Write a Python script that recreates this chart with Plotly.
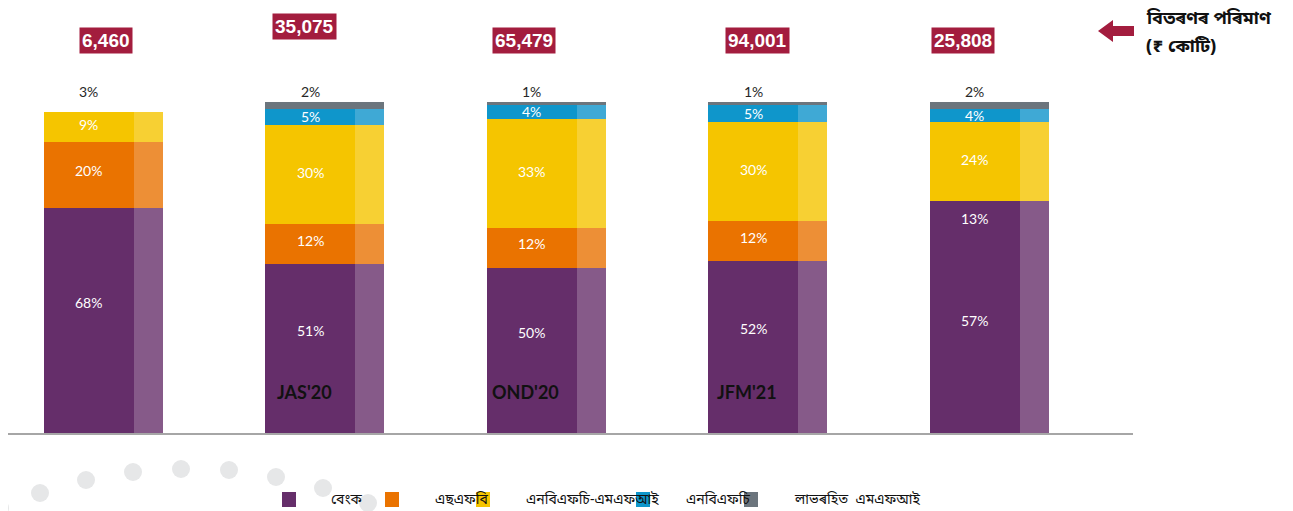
import plotly.graph_objects as go

# ---------------- data ----------------
bar_index = [0, 1, 2, 3, 4]
period_labels = ["", "JAS'20", "OND'20", "JFM'21", ""]
disbursement = ["6,460", "35,075", "65,479", "94,001", "25,808"]

banks = [68, 51, 50, 52, 57]
sfb = [20, 12, 12, 12, 13]
nbfc_mfi = [9, 30, 33, 30, 24]
nbfc = [0, 5, 4, 5, 4]
not_for_profit = [3, 2, 1, 1, 2]

legend_names = ["বেংক", "এছএফবি", "এনবিএফচি-এমএফআই", "এনবিএফচি", "লাভৰহিত  এমএফআই"]
unit_title = "বিতৰণৰ পৰিমাণ"
unit_sub = "(₹ কোটি)"

# ---------------- geometry / style ----------------
PAGE_OFF = 8            # browser body margin
W, H = 1293 - PAGE_OFF, 511 - PAGE_OFF
PLOT_LEFT, PLOT_RIGHT, PLOT_TOP, PLOT_BOTTOM = 8, 1133, 40, 433   # in screenshot pixels
L = PLOT_LEFT - PAGE_OFF
T = PLOT_TOP - PAGE_OFF
R = W - (PLOT_RIGHT - PAGE_OFF)
B = H - (PLOT_BOTTOM - PAGE_OFF)
PW, PH = PLOT_RIGHT - PLOT_LEFT, PLOT_BOTTOM - PLOT_TOP
PX_PER_UNIT = 3.31


def px(x):
    return (x - PLOT_LEFT) / PW


def py(y):
    return (PLOT_BOTTOM - y) / PH


PURPLE, PURPLE_L = "#652e6a", "#865a89"
ORANGE, ORANGE_L = "#ea7300", "#ed8f36"
YELLOW, YELLOW_L = "#f5c500", "#f7d033"
BLUE, BLUE_L = "#0f96cb", "#3fa9d5"
GRAY = "#6c757d"
CRIMSON = "#a31d3e"
CLEAR = "rgba(0,0,0,0)"

FULL_W = 0.537
DARK_W = 0.406
LIGHT_W = FULL_W - DARK_W
OFF = -FULL_W / 2
DARK_CENTER = OFF + DARK_W / 2

BN = "Noto Sans Bengali, Lohit Bengali, Noto Sans, sans-serif"
NUM = "Lato, Open Sans, sans-serif"

# colours per bar (style only)
sfb_dark = [ORANGE, ORANGE, ORANGE, ORANGE, PURPLE]
sfb_light = [ORANGE_L, ORANGE_L, ORANGE_L, ORANGE_L, PURPLE_L]
gray_cols = [CLEAR, GRAY, GRAY, GRAY, GRAY]

stack = [
    (banks, [PURPLE] * 5, [PURPLE_L] * 5, 18),
    (sfb, sfb_dark, sfb_light, 4),
    (nbfc_mfi, [YELLOW] * 5, [YELLOW_L] * 5, 2),
    (nbfc, [BLUE] * 5, [BLUE_L] * 5, 0),
]

fig = go.Figure()
annotations = []
base = [0] * 5
for vals, dark, light, shift in stack:
    fig.add_trace(go.Bar(x=bar_index, y=vals, base=base, width=DARK_W, offset=OFF,
                         marker=dict(color=dark, line=dict(width=0)),
                         showlegend=False, hoverinfo="skip"))
    fig.add_trace(go.Bar(x=bar_index, y=vals, base=base, width=LIGHT_W, offset=OFF + DARK_W,
                         marker=dict(color=light, line=dict(width=0)),
                         showlegend=False, hoverinfo="skip"))
    for i, v in enumerate(vals):
        if v > 0:
            annotations.append(dict(x=i + DARK_CENTER, y=base[i] + v / 2, xref="x", yref="y",
                                    yanchor="middle", text=f"{v}%", showarrow=False, yshift=shift,
                                    font=dict(family=NUM, size=14, color="white")))
    base = [b + v for b, v in zip(base, vals)]

fig.add_trace(go.Bar(x=bar_index, y=not_for_profit, base=base, width=FULL_W, offset=OFF,
                     marker=dict(color=gray_cols, line=dict(width=0)),
                     showlegend=False, hoverinfo="skip"))
top = [b + v for b, v in zip(base, not_for_profit)]
for i, v in enumerate(not_for_profit):
    annotations.append(dict(x=i + DARK_CENTER, y=top[i], xref="x", yref="y",
                            text=f"{v}%", showarrow=False, yanchor="bottom", yshift=0,
                            font=dict(family=NUM, size=14, color="#262626")))

# period labels inside the bars
for i, lab in enumerate(period_labels):
    if lab:
        annotations.append(dict(x=i + DARK_CENTER, y=py(392), xref="x", yref="paper",
                                yanchor="middle", xshift=-6, text=f"<b>{lab}</b>",
                                showarrow=False,
                                font=dict(family=NUM, size=18, color="#111111")))

# disbursement boxes
box_xshift = [3, -20, -22, -10, -26]
box_y = [40, 26.5, 41, 41, 41]
for i, txt in enumerate(disbursement):
    annotations.append(dict(x=i, y=py(box_y[i]), xref="x", yref="paper", yanchor="middle",
                            xshift=box_xshift[i], text=f"<b>{txt}</b>", showarrow=False,
                            bgcolor=CRIMSON, borderpad=2,
                            font=dict(family="Liberation Sans, Arial, sans-serif", size=19,
                                      color="white")))

# unit note on the right
annotations.append(dict(x=px(1144), y=py(19), xref="paper", yref="paper", xanchor="left",
                        yanchor="middle", text=f"<b>{unit_title}</b>", showarrow=False,
                        font=dict(family=BN, size=18, color="#111111")))
annotations.append(dict(x=px(1144), y=py(47), xref="paper", yref="paper", xanchor="left",
                        yanchor="middle", text=f"<b>{unit_sub}</b>", showarrow=False,
                        font=dict(family=BN, size=18, color="#111111")))

shapes = []
# arrow
pts = [(1098, 31), (1113, 20), (1113, 26), (1134, 26), (1134, 36), (1113, 36), (1113, 42)]
path = "M " + " L ".join(f"{px(a):.5f},{py(b):.5f}" for a, b in pts) + " Z"
shapes.append(dict(type="path", path=path, xref="paper", yref="paper",
                   fillcolor=CRIMSON, line=dict(width=0)))

# decorative dots
dots = [(0, 508), (40, 493), (86, 480), (133, 472), (181, 469), (229, 470), (276, 477),
        (323, 488), (368, 503)]
for cx, cy in dots:
    shapes.append(dict(type="circle", xref="paper", yref="paper", layer="above",
                       x0=px(cx - 9), x1=px(cx + 9), y0=py(cy + 9), y1=py(cy - 9),
                       fillcolor="#e6e7e8", line=dict(width=0)))

# legend (manual)
leg_marker_x = [282, 385, 476, 636, 744]
leg_text_x = [329, 433, 524, 684, 792]
leg_cols = [PURPLE, ORANGE, YELLOW, BLUE, GRAY]
for mx, tx, col, name in zip(leg_marker_x, leg_text_x, leg_cols, legend_names):
    shapes.append(dict(type="rect", xref="paper", yref="paper",
                       x0=px(mx), x1=px(mx + 14), y0=py(507), y1=py(492),
                       fillcolor=col, line=dict(width=0)))
    annotations.append(dict(x=px(tx), y=py(500), xref="paper", yref="paper", xanchor="left",
                            yanchor="middle", text=name, showarrow=False,
                            font=dict(family=BN, size=14, color="#111111")))

fig.update_layout(
    width=W, height=H,
    margin=dict(l=L, r=R, t=T, b=B),
    paper_bgcolor="white", plot_bgcolor="white",
    barmode="overlay", bargap=0,
    xaxis=dict(range=[-0.431, 4.648], showticklabels=False, ticks="", showgrid=False,
               zeroline=False, showline=True, linecolor="#a6a6a6", linewidth=2),
    yaxis=dict(range=[0, PH / PX_PER_UNIT], visible=False, showgrid=False, zeroline=False),
    annotations=annotations, shapes=shapes,
)

fig.write_html("out.html")
